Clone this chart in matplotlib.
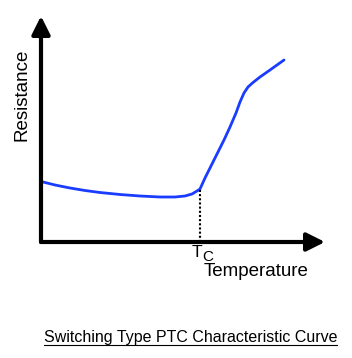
import matplotlib
matplotlib.use("Agg")
import matplotlib.pyplot as plt

plt.rcParams['font.family'] = ['Liberation Sans', 'DejaVu Sans']

# curve (arbitrary units, origin at the axis corner)
temperature = [2, 14, 29, 44, 59, 79, 99, 119, 134, 144, 151, 156, 159,
               164, 169, 176, 183, 189, 195, 199, 203, 207, 212, 219, 229, 243]
resistance = [60, 57, 54, 51.5, 49.5, 47.5, 46, 45, 45, 46, 48, 51, 53,
              64, 74, 88, 102, 115, 129, 140, 149, 155, 159.5, 165, 172, 182]
tc = 159
tc_res = 53

W, H = 352, 358
fig = plt.figure(figsize=(W / 100, H / 100), dpi=100)
ax = fig.add_axes([41 / W, (H - 242) / H, (325 - 41) / W, (242 - 16) / H])
ax.set_xlim(0, 284)
ax.set_ylim(0, 226)
ax.axis('off')

ax.plot(temperature, resistance, color='#1a3cff', lw=2, solid_capstyle='round',
        solid_joinstyle='round')
ax.plot([tc, tc], [0, tc_res], color='black', lw=1.5, ls=(0, (1, 1)))

# axes arrows
arrow = dict(arrowstyle='-|>,head_length=1.0,head_width=0.5', lw=3,
             color='black', mutation_scale=11, shrinkA=0, shrinkB=0)
ax.annotate('', xy=(1, 0), xytext=(0, 0), xycoords='axes fraction', arrowprops=arrow)
ax.annotate('', xy=(0, 1), xytext=(0, 0), xycoords='axes fraction', arrowprops=arrow)

fig.text(14 / W, 1 - 95 / H, 'Resistance', rotation=90, fontsize=13.5,
         ha='left', va='center')
fig.text(192 / W, 1 - 257 / H, 'T', fontsize=12.5, ha='left', va='baseline')
fig.text(202.5 / W, 1 - 261 / H, 'C', fontsize=11, ha='left', va='baseline')
fig.text(204 / W, 1 - 276 / H, 'Temperature', fontsize=13.5, ha='left', va='baseline')

fig.text(190.5 / W, 1 - 342 / H, 'Switching Type PTC Characteristic Curve',
         fontsize=11.5, ha='center', va='baseline')
fig.add_artist(plt.Line2D([44 / W, 337 / W], [1 - 345 / H, 1 - 345 / H],
                          color='black', lw=0.8))

fig.savefig('out.png', dpi=100)
